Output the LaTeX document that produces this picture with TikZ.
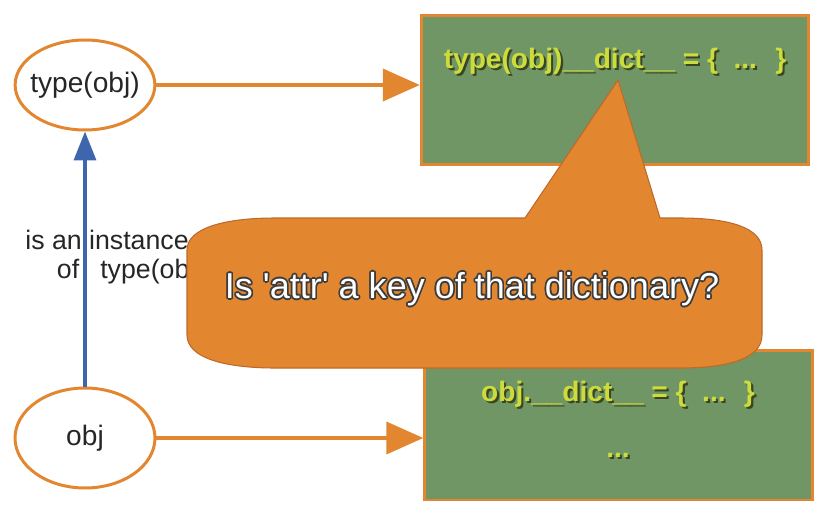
\documentclass[tikz,border=0pt]{standalone}
\usepackage{fontspec}
\setmainfont{Liberation Sans}
\usepackage{contour}
\usetikzlibrary{shapes.geometric}
\usetikzlibrary{arrows.meta}

\definecolor{pyorange}{RGB}{226,134,48}
\definecolor{pygreen}{RGB}{112,150,102}
\definecolor{pyblue}{RGB}{62,102,172}
\definecolor{dictfg}{RGB}{204,220,60}
\definecolor{dictshade}{RGB}{58,70,34}
\definecolor{calloutline}{RGB}{190,105,40}
\definecolor{askline}{RGB}{60,60,60}
\newcommand\shadowed[1]{\makebox[0pt][l]{\hspace{1.2pt}\raisebox{-1.2pt}{\color{dictshade}#1}}{\color{dictfg}#1}}
\contourlength{0.9pt}

\tikzset{
  objnode/.style={ellipse, draw=pyorange, line width=1.7pt, fill=white, inner sep=0pt,
    text=black!85, font=\fontsize{16}{19}\selectfont},
  dictbox/.style={rectangle, draw=pyorange, line width=1.7pt, fill=pygreen,
    minimum width=7.75cm, minimum height=3cm},
  dicttext/.style={font=\bfseries\fontsize{16}{19}\selectfont},
  orangearrow/.style={draw=pyorange, line width=2.2pt, -{Triangle[length=0.74cm,width=0.64cm]}},
}

\begin{document}
\begin{tikzpicture}[x=0.02cm,y=-0.02cm]
\useasboundingbox (0,0) rectangle (834,524);

% the two objects
\node[objnode, inner xsep=-3pt, minimum width=2.76cm, minimum height=1.8cm] (tobj) at (85,85) {type(obj)};
\node[objnode, minimum width=2.8cm, minimum height=2cm] (obj) at (85,438) {obj};

% the two dictionaries
\node[dictbox] (tdict) at (615,90) {};
\node[dictbox] (odict) at (618.5,425) {};
\node[dicttext] (tdtext) at (615,62) {\shadowed{type(obj)\_\_dict\_\_ = \{ \ ... \ \}}};
\node[dicttext] (odtext) at (618,395) {\shadowed{obj.\_\_dict\_\_ = \{ \ ... \ \}}};
\node[dicttext] (odmore) at (618,456) {\shadowed{...}};

\draw[orangearrow] (tobj.east) -- (tobj.east -| tdict.west);
\draw[orangearrow] (obj.east) -- (obj.east -| odict.west);

% instance relation
\node[align=left, anchor=west, inner sep=0pt, text=black!85, font=\fontsize{15.2}{16.5}\selectfont] (inst) at (25,257) {is an instance\\\hspace*{18pt}of\hspace{12pt}type(obj)};
\draw[pyblue, line width=2pt, -{Triangle[length=0.58cm,width=0.44cm]}] (obj.north) -- (tobj.south);

% the question
\coordinate (tip) at (618,80);
\draw[fill=pyorange, draw=calloutline, line width=0.6pt]
  (187,250) -- (187,335) .. controls (187,358) and (225,368) .. (275,368)
  -- (680,368) .. controls (730,368) and (762,358) .. (762,335)
  -- (762,250) .. controls (762,228) and (730,218) .. (680,218)
  -- (660,218) -- (tip) -- (525,218)
  -- (275,218) .. controls (225,218) and (187,228) .. (187,250) -- cycle;
\node[text=white, font=\fontsize{20.5}{24}\selectfont] (ask) at (472,290) {\contour{askline}{Is \textquotesingle attr\textquotesingle{} a key of that dictionary?}};

\end{tikzpicture}
\end{document}
